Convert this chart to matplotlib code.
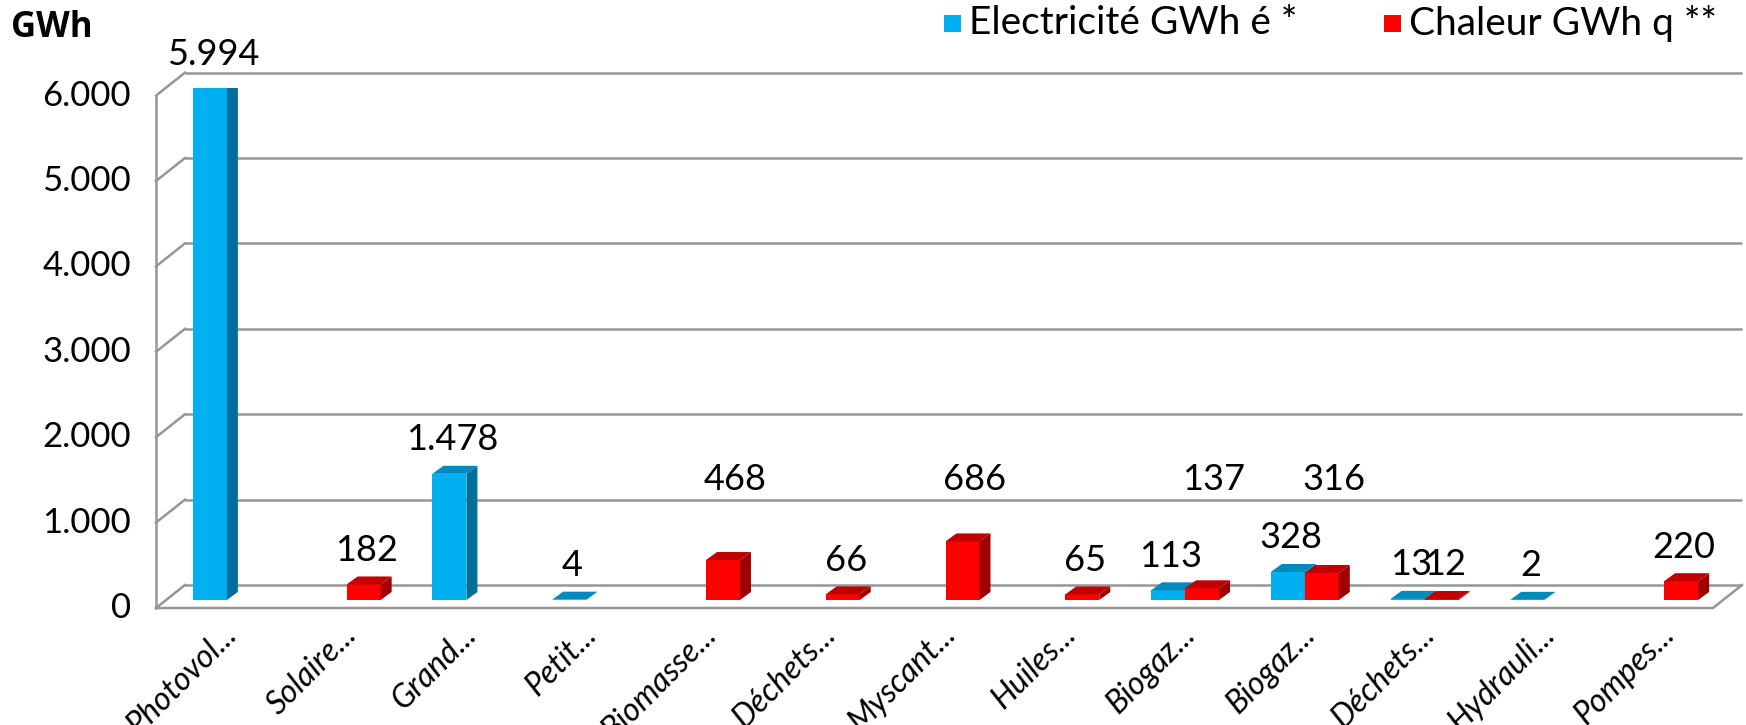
import matplotlib
matplotlib.use("Agg")
import matplotlib.pyplot as plt
from matplotlib.patches import Polygon, Rectangle

# ---------------- data ----------------
categories = ["Photovol...", "Solaire...", "Grand...", "Petit...", "Biomasse...",
              "Déchets...", "Myscant...", "Huiles...", "Biogaz...", "Biogaz...",
              "Déchets...", "Hydrauli...", "Pompes..."]
electricite = [5994, 0, 1478, 4, 0, 0, 0, 0, 113, 328, 13, 2, 0]
chaleur = [0, 182, 0, 0, 468, 66, 686, 65, 137, 316, 12, 0, 220]
yticks = [0, 1000, 2000, 3000, 4000, 5000, 6000]
ytick_labels = ["0", "1.000", "2.000", "3.000", "4.000", "5.000", "6.000"]
series_names = ["Electricité GWh é *", "Chaleur GWh q **"]
unit_label = "GWh"

# ---------------- style ----------------
W, H, DPI = 1746, 725, 100
BLUE = ("#00B0F0", "#0089BC", "#006F99")   # front, top, side
RED = ("#FF0000", "#C00000", "#A00000")
GRID = "#969696"
FONT = "Lato"
lifted_heat_idx = [4, 6, 8, 9]   # heat labels drawn higher (as in reference)
LIFT_LEVEL_PX = 120              # label centre height above floor for lifted labels

fig = plt.figure(figsize=(W / DPI, H / DPI), dpi=DPI)
ax_left, ax_bottom_px, ax_w_px, ax_h_px = 167, 125, 1557, 512.4
ax = fig.add_axes([ax_left / W, ax_bottom_px / H, ax_w_px / W, ax_h_px / H])
n = len(categories)
ax.set_xlim(-0.5, n - 0.5)
ax.set_ylim(0, 6000)
ax.axis("off")

sx = ax_w_px / n          # px per category unit
sy = ax_h_px / 6000.0     # px per GWh

def d(px_x, px_y):
    return px_x / sx, px_y / sy

bar_w = 34 / sx
depth = d(11, 8)
back = d(18, 15)
front = d(-11, -8)

# ---------------- walls / grid ----------------
x0, x1 = -0.5, n - 0.5
for v in yticks:
    ax.plot([x0 + back[0], x1 + back[0]], [v + back[1], v + back[1]],
            color=GRID, lw=1.8, clip_on=False, zorder=1, solid_capstyle="butt")
    ax.plot([x0 + front[0], x0 + back[0]], [v + front[1], v + back[1]],
            color=GRID, lw=1.8, clip_on=False, zorder=1)
ax.plot([x0 + front[0], x0 + front[0]], [0 + front[1], 6000 + front[1]],
        color=GRID, lw=1.8, clip_on=False, zorder=1)
ax.plot([x0 + front[0], x1 + front[0], x1 + back[0]],
        [front[1], front[1], back[1]], color=GRID, lw=1.8, clip_on=False, zorder=1)

# ---------------- 3D bars ----------------
def bar3d(xl, v, cols):
    if v <= 0:
        return
    ax.bar(xl, v, width=bar_w, align="edge", color=cols[0], lw=0, zorder=3)
    xr = xl + bar_w
    dx, dy = depth
    ax.add_patch(Polygon([(xr, 0), (xr + dx, dy), (xr + dx, v + dy), (xr, v)],
                         closed=True, facecolor=cols[2], lw=0, zorder=3))
    ax.add_patch(Polygon([(xl, v), (xr, v), (xr + dx, v + dy), (xl + dx, v + dy)],
                         closed=True, facecolor=cols[1], lw=0, zorder=3))

def fmt(v):
    return f"{v:,}".replace(",", ".")

lab_kw = dict(ha="center", va="center", fontsize=26, family=FONT, zorder=5)
for i in range(n):
    e, c = electricite[i], chaleur[i]
    bar3d(i - bar_w, e, BLUE)
    bar3d(i, c, RED)
    if e > 0:
        ax.text(i - bar_w / 2 + 3 / sx, e + 34 / sy, fmt(e), **lab_kw)
    if c > 0:
        if i in lifted_heat_idx:
            ax.text(i + bar_w / 2 + 12 / sx, LIFT_LEVEL_PX / sy, fmt(c), **lab_kw)
        else:
            ax.text(i + bar_w / 2 + 3 / sx, c + 34 / sy, fmt(c), **lab_kw)

# ---------------- axis labels ----------------
for v, t in zip(yticks, ytick_labels):
    ax.text(x0 - 36 / sx, v - 8 / sy, t, ha="right", va="center",
            fontsize=25, family=FONT, clip_on=False)

for i, cat in enumerate(categories):
    ax.text(i + 12 / sx, -36 / sy, cat, ha="right", va="baseline", rotation=45,
            rotation_mode="anchor", fontsize=23, family=FONT, style="italic",
            clip_on=False)

fig.text(11 / W, 1 - 37 / H, unit_label, ha="left", va="baseline",
         fontsize=25, family="Open Sans", weight="bold")

# ---------------- legend ----------------
for (sqx, tx), name, col in zip([(944, 969), (1384, 1409)], series_names,
                                [BLUE[0], RED[0]]):
    fig.patches.append(Rectangle((sqx / W, 1 - 32 / H), 17 / W, 17 / H,
                                 transform=fig.transFigure, facecolor=col, lw=0))
    fig.text(tx / W, 1 - 23 / H, name, ha="left", va="center",
             fontsize=28, family=FONT)

fig.savefig("out.png", dpi=DPI)
